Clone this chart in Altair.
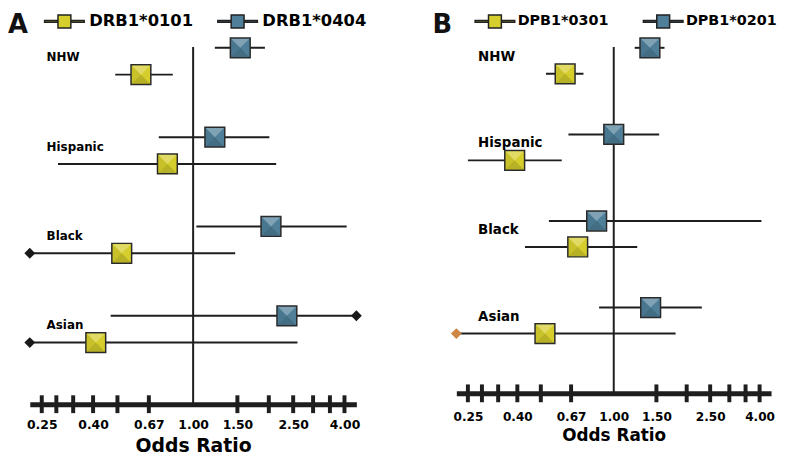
import altair as alt
import pandas as pd

# ---------------- data ----------------
groups = ["NHW", "Hispanic", "Black", "Asian"]

a_alleles = ["DRB1*0101", "DRB1*0404"]
a_0101_or = [0.62, 0.79, 0.52, 0.41]
a_0101_lo = [0.49, 0.29, 0.18, 0.17]
a_0101_hi = [0.83, 2.14, 1.47, 2.60]
a_0404_or = [1.54, 1.22, 2.04, 2.36]
a_0404_lo = [1.22, 0.73, 1.03, 0.47]
a_0404_hi = [1.93, 2.01, 4.08, 5.50]

b_alleles = ["DPB1*0301", "DPB1*0201"]
b_0301_or = [0.63, 0.39, 0.71, 0.52]
b_0301_lo = [0.525, 0.25, 0.43, 0.19]
b_0301_hi = [0.75, 0.61, 1.25, 1.80]
b_0201_or = [1.41, 1.00, 0.85, 1.42]
b_0201_lo = [1.22, 0.65, 0.54, 0.87]
b_0201_hi = [1.62, 1.54, 4.07, 2.31]

tick_values = [0.25, 1 / 3.5, 1 / 3, 0.4, 0.5, 1 / 1.5, 1.5, 2.0, 2.5, 3.0, 3.5, 4.0]
label_values = [0.25, 0.40, 2 / 3, 1.00, 1.50, 2.50, 4.00]
x_min, x_max = 0.224, 4.46

FONT = "DejaVu Sans"
YELLOW = "#d6ce2c"
BLUE = "#4f7f99"
DARK = "#1e1e1e"

LEGEND_PATH = ("M-2,-0.09H-0.65V0.09H-2Z M0.65,-0.09H2V0.09H0.65Z "
               "M-0.65,-0.65H0.65V0.65H-0.65Z")
TRI_TOP = "M-0.92,-0.92L0.92,-0.92L0,0Z"
TRI_BOTTOM = "M-0.92,0.92L0.92,0.92L0,0Z"
TRI_LEFT = "M-0.92,-0.92L-0.92,0.92L0,0Z"


def make_df(alleles, series):
    rows = []
    for ai, (allele, (o, lo, hi)) in enumerate(zip(alleles, series)):
        for gi, g in enumerate(groups):
            rows.append({"group": g, "gi": gi, "allele": allele, "ai": ai,
                         "or": o[gi], "lo": lo[gi], "hi": hi[gi]})
    return pd.DataFrame(rows)


def panel(letter, alleles, series, W, H, diamond_color, lab):
    df = make_df(alleles, series)
    xs = alt.Scale(type="log", domain=[x_min, x_max], clamp=True, nice=False)
    ys = alt.Scale(domain=[-0.16, 3.84], reverse=True, nice=False, zero=False)
    xaxis = alt.Axis(values=label_values, format=".2f", ticks=False, grid=False,
                     domainWidth=5, domainColor=DARK, labelFont=FONT,
                     labelFontSize=lab["lfs"], labelFontWeight="bold",
                     labelColor="black", labelPadding=lab["lpad"],
                     labelFlush=False, labelOverlap=False,
                     title="Odds Ratio", titleFont=FONT,
                     titleFontSize=lab["tfs"], titleFontWeight="bold",
                     titleColor="black", titlePadding=lab["tpad"])

    base = alt.Chart(df).transform_calculate(
        pos="datum.gi - (datum.ai - 0.5) * 0.3")
    X = lambda f: alt.X(f, type="quantitative", scale=xs, axis=xaxis)
    Y = alt.Y("pos:Q", scale=ys, axis=None)

    vline = alt.Chart(pd.DataFrame({"v": [1.0]})).mark_rule(
        color=DARK, strokeWidth=2).encode(x=X("v"))

    ticks = alt.Chart(pd.DataFrame({"t": tick_values})).mark_tick(
        color=DARK, thickness=4, size=18, opacity=1).encode(
        x=X("t"), y=alt.value(H))

    bars = base.mark_rule(color=DARK, strokeWidth=2).encode(
        x=X("lo"), x2="hi:Q", y=Y)

    dia_lo = base.transform_filter(f"datum.lo < {x_min}").mark_point(
        shape="diamond", filled=True, size=120, color=diamond_color,
        opacity=1).encode(x=X("lo"), y=Y)
    dia_hi = base.transform_filter(f"datum.hi > {x_max}").mark_point(
        shape="diamond", filled=True, size=120, color=diamond_color,
        opacity=1).encode(x=X("hi"), y=Y)

    squares = base.mark_square(size=400, stroke="#2a2a2a", strokeWidth=1.5,
                               opacity=1).encode(
        x=X("or"), y=Y,
        fill=alt.Fill("allele:N",
                      scale=alt.Scale(domain=alleles, range=[YELLOW, BLUE]),
                      legend=alt.Legend(
                          orient="none", legendX=lab["legx"], legendY=-37,
                          direction="horizontal", title=None, padding=0,
                          symbolType=LEGEND_PATH, symbolSize=400,
                          symbolStrokeColor="#222", symbolStrokeWidth=1.5,
                          symbolOpacity=1, labelFont=FONT,
                          labelFontSize=lab["legfs"], labelFontWeight="bold",
                          labelColor="black", labelOffset=lab["loff"],
                          columnPadding=lab["colpad"])))

    hl = base.mark_point(shape=TRI_TOP, filled=True, fill="white",
                         opacity=0.28, size=400, strokeWidth=0).encode(
        x=X("or"), y=Y)
    sh = base.mark_point(shape=TRI_BOTTOM, filled=True, fill="black",
                         opacity=0.14, size=400, strokeWidth=0).encode(
        x=X("or"), y=Y)
    sh2 = base.mark_point(shape=TRI_LEFT, filled=True, fill="black",
                          opacity=0.06, size=400, strokeWidth=0).encode(
        x=X("or"), y=Y)

    glabels = alt.Chart(pd.DataFrame({"group": groups, "gi": list(range(4))})
                        ).mark_text(align="left", baseline="middle", dy=-4,
                                    font=FONT, fontSize=lab["gfs"],
                                    fontWeight="bold", color="black").encode(
        x=alt.value(lab["gx"]), y=alt.Y("gi:Q", scale=ys, axis=None),
        text="group:N")

    letter_mark = alt.Chart(pd.DataFrame({"t": [letter]})).mark_text(
        align="left", baseline="alphabetic", font=FONT, fontSize=26,
        fontWeight="bold", color="#111").encode(
        x=alt.value(lab["letx"]), y=alt.value(-14), text="t:N")

    return alt.layer(vline, ticks, bars, dia_lo, dia_hi, squares, hl, sh, sh2,
                     glabels, letter_mark).properties(width=W, height=H)


chart_a = panel("A", a_alleles,
                [(a_0101_or, a_0101_lo, a_0101_hi),
                 (a_0404_or, a_0404_lo, a_0404_hi)],
                330, 361, "#1a1a1a",
                dict(lfs=12.5, lpad=15, tfs=19, tpad=5, legx=24, legfs=16.5,
                     loff=14, colpad=21, gfs=12, gx=17, letx=-22))
chart_b = panel("B", b_alleles,
                [(b_0301_or, b_0301_lo, b_0301_hi),
                 (b_0201_or, b_0201_lo, b_0201_hi)],
                318, 350, "#cc8844",
                dict(lfs=12.2, lpad=17, tfs=17, tpad=5, legx=28, legfs=14.5,
                     loff=12, colpad=32, gfs=13.5, gx=22, letx=-24))

chart = alt.hconcat(chart_a, chart_b, spacing=66).resolve_scale(
    fill="independent").resolve_legend(fill="independent").configure_view(
    stroke=None).properties(padding=0)

chart.save("out.html", embed_options={"renderer": "svg", "actions": False})
